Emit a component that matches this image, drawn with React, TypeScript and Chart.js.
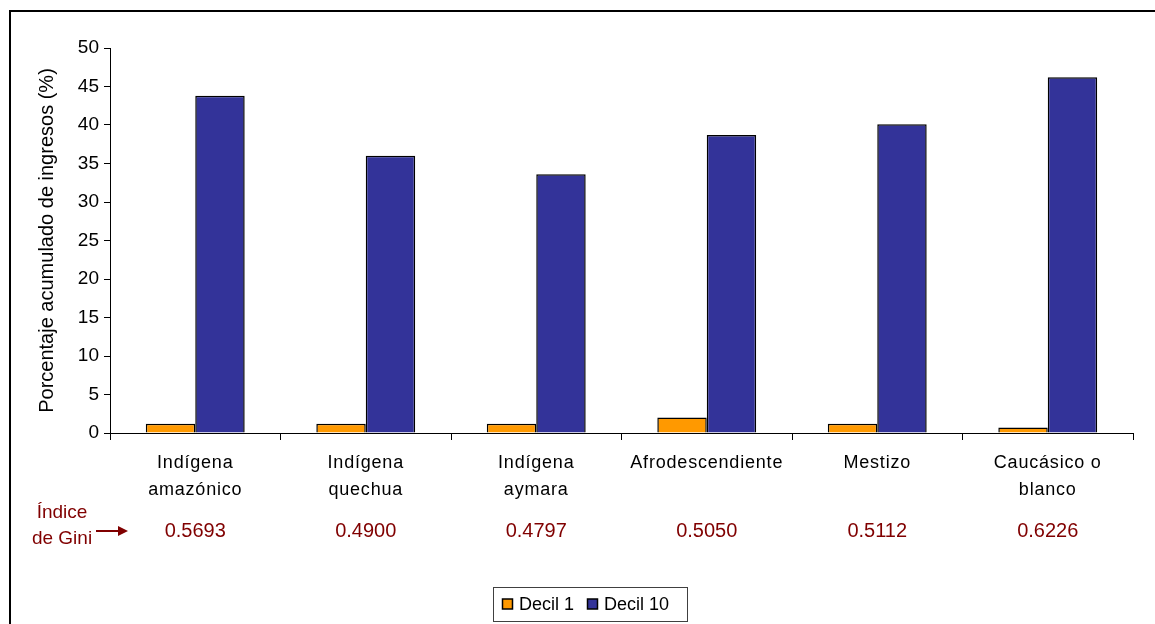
import React, { useEffect, useRef } from "react";
import { Chart, registerables } from "chart.js";

Chart.register(...registerables);

const categories: string[][] = [
  ["Indígena", "amazónico"],
  ["Indígena", "quechua"],
  ["Indígena", "aymara"],
  ["Afrodescendiente"],
  ["Mestizo"],
  ["Caucásico o", "blanco"],
];
const decil1: number[] = [1.2, 1.2, 1.2, 2.0, 1.2, 0.7];
const decil10: number[] = [43.8, 36.0, 33.6, 38.7, 40.1, 46.2];
const giniValues: string[] = ["0.5693", "0.4900", "0.4797", "0.5050", "0.5112", "0.6226"];
const seriesNames: string[] = ["Decil 1", "Decil 10"];
const seriesColors: string[] = ["#FF9900", "#333399"];
const yTitle = "Porcentaje acumulado de ingresos (%)";
const giniCaption: string[] = ["Índice", "de Gini"];

const FONT = "Arial, 'Liberation Sans', sans-serif";
const GINI_RED = "#800000";

// Slightly spaced lettering for the category labels only
const spacedCategoryLabels = {
  id: "spacedCategoryLabels",
  beforeDraw(chart: any) {
    const xs = chart.scales.x;
    if (xs && !xs.__spaced) {
      const orig = xs.drawLabels.bind(xs);
      xs.drawLabels = (area: any) => {
        const ctx = chart.ctx as any;
        ctx.letterSpacing = "0.8px";
        orig(area);
        ctx.letterSpacing = "0px";
      };
      xs.__spaced = true;
    }
  },
};

// Extra drawing: outer frame, axis title, Gini row and the boxed legend
const decorations = {
  id: "decorations",
  afterDraw(chart: any) {
    const ctx = chart.ctx as CanvasRenderingContext2D;
    (ctx as any).letterSpacing = "0px";
    const xs = chart.scales.x;
    const area = chart.chartArea;

    ctx.save();
    // outer frame (left and top edges)
    ctx.strokeStyle = "#000";
    ctx.lineWidth = 2;
    ctx.beginPath();
    ctx.moveTo(10, 700);
    ctx.lineTo(10, 11);
    ctx.lineTo(1200, 11);
    ctx.stroke();

    // y axis title
    ctx.save();
    ctx.translate(47, (area.top + area.bottom) / 2);
    ctx.rotate(-Math.PI / 2);
    ctx.fillStyle = "#000";
    ctx.font = `20px ${FONT}`;
    ctx.textAlign = "center";
    ctx.textBaseline = "middle";
    ctx.fillText(yTitle, 0, 0);
    ctx.restore();

    // Gini index row
    ctx.fillStyle = GINI_RED;
    ctx.font = `20px ${FONT}`;
    ctx.textAlign = "center";
    ctx.textBaseline = "middle";
    giniValues.forEach((g, i) => {
      ctx.fillText(g, xs.getPixelForValue(i), 531);
    });
    ctx.font = `19px ${FONT}`;
    ctx.fillText(giniCaption[0], 62, 513);
    ctx.fillText(giniCaption[1], 62, 539);

    // arrow
    ctx.strokeStyle = GINI_RED;
    ctx.lineWidth = 2;
    ctx.beginPath();
    ctx.moveTo(96, 531);
    ctx.lineTo(120, 531);
    ctx.stroke();
    ctx.beginPath();
    ctx.moveTo(128, 531);
    ctx.lineTo(118, 526);
    ctx.lineTo(118, 536);
    ctx.closePath();
    ctx.fill();

    // legend box
    const lx = 493.5, ly = 587.5, lw = 194, lh = 34;
    ctx.fillStyle = "#fff";
    ctx.fillRect(lx, ly, lw, lh);
    ctx.strokeStyle = "#404040";
    ctx.lineWidth = 1;
    ctx.strokeRect(lx, ly, lw, lh);
    ctx.font = `18px ${FONT}`;
    ctx.textAlign = "left";
    ctx.textBaseline = "middle";
    const cy = ly + lh / 2;
    const items = [
      { x: 502, tx: 519 },
      { x: 587, tx: 604 },
    ];
    chart.data.datasets.forEach((ds: any, i: number) => {
      const it = items[i];
      ctx.fillStyle = ds.backgroundColor;
      ctx.fillRect(it.x + 0.5, cy - 5.5, 10, 10);
      ctx.strokeStyle = "#000";
      ctx.lineWidth = 1.5;
      ctx.strokeRect(it.x + 0.5, cy - 5.5, 10, 10);
      ctx.fillStyle = "#000";
      ctx.fillText(ds.label, it.tx, cy + 1);
    });
    ctx.restore();
  },
};

export default function App() {
  const canvasRef = useRef<HTMLCanvasElement | null>(null);

  useEffect(() => {
    if (!canvasRef.current) return;
    const chart = new Chart(canvasRef.current, {
      type: "bar",
      data: {
        labels: categories,
        datasets: [
          {
            label: seriesNames[0],
            data: decil1,
            backgroundColor: seriesColors[0],
            borderColor: "#000",
            borderWidth: 1.5,
            barPercentage: 1,
            categoryPercentage: 0.58,
          },
          {
            label: seriesNames[1],
            data: decil10,
            backgroundColor: seriesColors[1],
            borderColor: "#000",
            borderWidth: 1.5,
            barPercentage: 1,
            categoryPercentage: 0.58,
          },
        ],
      },
      options: {
        responsive: false,
        animation: false,
        devicePixelRatio: 1,
        layout: { padding: { top: 48, right: 22, left: 0, bottom: 0 } },
        plugins: {
          legend: { display: false },
          tooltip: { enabled: false },
          title: { display: false },
        },
        scales: {
          x: {
            grid: {
              offset: true,
              drawOnChartArea: false,
              tickLength: 7,
              color: "#000",
            },
            border: { color: "#000", width: 1 },
            ticks: {
              color: "#000",
              font: { family: FONT, size: 18, lineHeight: 1.5 },
              padding: 10,
              maxRotation: 0,
              autoSkip: false,
            },
            afterFit: (s: any) => {
              s.height = 191;
            },
          },
          y: {
            min: 0,
            max: 50,
            grid: {
              drawOnChartArea: false,
              tickLength: 6,
              color: "#000",
            },
            border: { color: "#000", width: 1 },
            ticks: {
              stepSize: 5,
              color: "#000",
              font: { family: FONT, size: 19 },
              padding: 5,
            },
            afterFit: (s: any) => {
              s.width = 110;
            },
          },
        },
      },
      plugins: [spacedCategoryLabels, decorations],
    });
    return () => chart.destroy();
  }, []);

  return (
    <div
      style={{
        position: "fixed",
        left: 0,
        top: 0,
        width: 1155,
        height: 624,
        background: "#fff",
      }}
    >
      <canvas ref={canvasRef} width={1155} height={624} />
    </div>
  );
}
